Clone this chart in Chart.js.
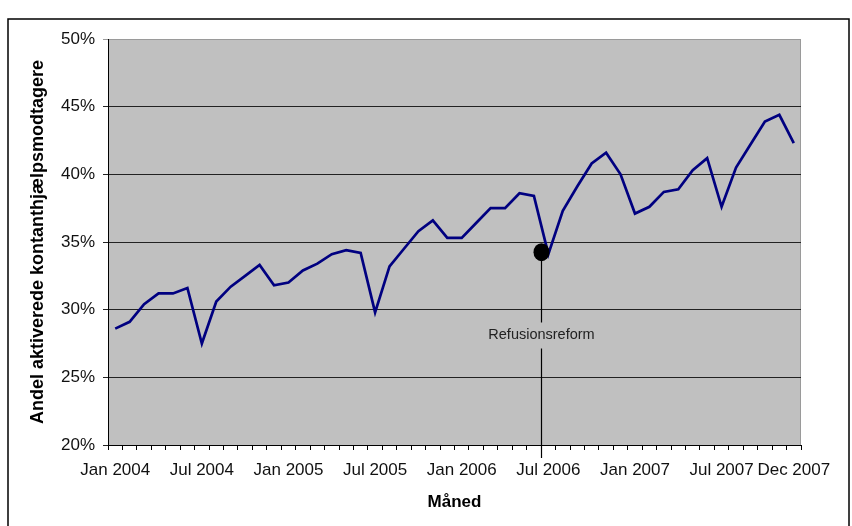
<!DOCTYPE html>
<html>
<head>
<meta charset="utf-8">
<script src="https://cdn.jsdelivr.net/npm/chart.js@4/dist/chart.umd.min.js"></script>
<style>
  html, body { margin: 0; padding: 0; background: #fff; }
  canvas { display: block; }
</style>
</head>
<body>
<canvas id="andel" width="852" height="526"></canvas>
<script>
const months = [
  "Jan 2004", "Feb 2004", "Mar 2004", "Apr 2004", "May 2004", "Jun 2004",
  "Jul 2004", "Aug 2004", "Sep 2004", "Oct 2004", "Nov 2004", "Dec 2004",
  "Jan 2005", "Feb 2005", "Mar 2005", "Apr 2005", "May 2005", "Jun 2005",
  "Jul 2005", "Aug 2005", "Sep 2005", "Oct 2005", "Nov 2005", "Dec 2005",
  "Jan 2006", "Feb 2006", "Mar 2006", "Apr 2006", "May 2006", "Jun 2006",
  "Jul 2006", "Aug 2006", "Sep 2006", "Oct 2006", "Nov 2006", "Dec 2006",
  "Jan 2007", "Feb 2007", "Mar 2007", "Apr 2007", "May 2007", "Jun 2007",
  "Jul 2007", "Aug 2007", "Sep 2007", "Oct 2007", "Nov 2007", "Dec 2007",
];

// andel aktiverede kontanthjælpsmodtagere, pct.
const andel = [
  28.6, 29.1, 30.4, 31.2, 31.2, 31.6, 27.5, 30.6, 31.7, 32.5, 33.3, 31.8,
  32.0, 32.9, 33.4, 34.1, 34.4, 34.2, 29.8, 33.2, 34.5, 35.8, 36.6, 35.3,
  35.3, 36.4, 37.5, 37.5, 38.6, 38.4, 34.1, 37.3, 39.1, 40.8, 41.6, 40.0,
  37.1, 37.6, 38.7, 38.9, 40.3, 41.2, 37.6, 40.5, 42.2, 43.9, 44.4, 42.3,
];

const shownMonths = [
  "Jan 2004", "Jul 2004", "Jan 2005", "Jul 2005", "Jan 2006",
  "Jul 2006", "Jan 2007", "Jul 2007", "Dec 2007",
];

// reform marker sits on the boundary just before this month
const reformMonth = "Jul 2006";
const reformLevel = 34.25;
const reformText = "Refusionsreform";
const reformTextLevel = 28.1;

const FONT = "'Liberation Sans', Arial, sans-serif";

// white page, outer frame and grey plot area
const frame = {
  id: "frame",
  beforeDraw(chart) {
    const { ctx, chartArea: a } = chart;
    ctx.save();
    ctx.fillStyle = "#fff";
    ctx.fillRect(0, 0, chart.width, chart.height);
    ctx.strokeStyle = "#000";
    ctx.lineWidth = 1.5;
    ctx.strokeRect(8, 19, 841, 540);
    ctx.fillStyle = "#c0c0c0";
    ctx.fillRect(a.left, a.top, a.right - a.left, a.bottom - a.top);
    ctx.strokeStyle = "#9a9a9a";
    ctx.lineWidth = 1;
    ctx.beginPath();
    ctx.moveTo(a.left, a.top + 0.5);
    ctx.lineTo(a.right - 0.5, a.top + 0.5);
    ctx.lineTo(a.right - 0.5, a.bottom);
    ctx.stroke();
    ctx.restore();
  },
};

const reform = {
  id: "reform",
  afterDatasetsDraw(chart) {
    const { ctx } = chart;
    const xs = chart.scales.x;
    const ys = chart.scales.y;
    const i = months.indexOf(reformMonth);
    const x = Math.round((xs.getPixelForValue(i - 1) + xs.getPixelForValue(i)) / 2) + 0.5;
    const y = ys.getPixelForValue(reformLevel);
    const ty = ys.getPixelForValue(reformTextLevel);

    ctx.save();
    ctx.strokeStyle = "#000";
    ctx.lineWidth = 1.2;
    ctx.beginPath();
    ctx.moveTo(x, y);
    ctx.lineTo(x, ty - 13);
    ctx.moveTo(x, ty + 13);
    ctx.lineTo(x, xs.top + 13);
    ctx.stroke();

    ctx.fillStyle = "#000";
    ctx.beginPath();
    ctx.ellipse(x, y, 8, 9, 0, 0, Math.PI * 2);
    ctx.fill();

    ctx.fillStyle = "#222";
    ctx.font = "14.5px " + FONT;
    ctx.textAlign = "center";
    ctx.textBaseline = "middle";
    ctx.fillText(reformText, x, ty);
    ctx.restore();
  },
};

new Chart(document.getElementById("andel"), {
  type: "line",
  data: {
    labels: months,
    datasets: [
      {
        label: "Andel aktiverede",
        data: andel,
        borderColor: "#000080",
        borderWidth: 2.7,
        pointRadius: 0,
        tension: 0,
        fill: false,
      },
    ],
  },
  options: {
    responsive: false,
    devicePixelRatio: 1,
    animation: false,
    layout: {
      padding: { top: 39, right: 51, bottom: 0, left: 0 },
    },
    plugins: {
      legend: { display: false },
      tooltip: { enabled: false },
    },
    scales: {
      x: {
        offset: true,
        afterFit: (scale) => {
          scale.height = 81;
        },
        grid: {
          offset: true,
          drawOnChartArea: false,
          drawTicks: true,
          tickLength: 5,
          color: "#000",
        },
        border: { color: "#000", width: 1 },
        ticks: {
          autoSkip: false,
          maxRotation: 0,
          minRotation: 0,
          padding: 10,
          color: "#111",
          font: { family: FONT, size: 17 },
          callback: function (value) {
            const lab = this.getLabelForValue(value);
            return shownMonths.includes(lab) ? lab : "";
          },
        },
        title: {
          display: true,
          text: "Måned",
          color: "#000",
          font: { family: FONT, size: 17, weight: "bold" },
          padding: { top: 0, bottom: 13 },
        },
      },
      y: {
        min: 20,
        max: 50,
        afterFit: (scale) => {
          scale.width = 108;
        },
        grid: {
          color: (c) => (c.tick && c.tick.value === 50 ? "#9a9a9a" : "#222"),
          lineWidth: 1,
          tickLength: 5,
        },
        border: { color: "#000", width: 1 },
        ticks: {
          stepSize: 5,
          padding: 8,
          color: "#111",
          font: { family: FONT, size: 17 },
          callback: (v) => v + "%",
        },
        title: {
          display: true,
          text: "Andel aktiverede kontanthjælpsmodtagere",
          color: "#000",
          font: { family: FONT, size: 18, weight: "bold" },
          padding: { top: 27, bottom: 0 },
        },
      },
    },
  },
  plugins: [frame, reform],
});
</script>
</body>
</html>
